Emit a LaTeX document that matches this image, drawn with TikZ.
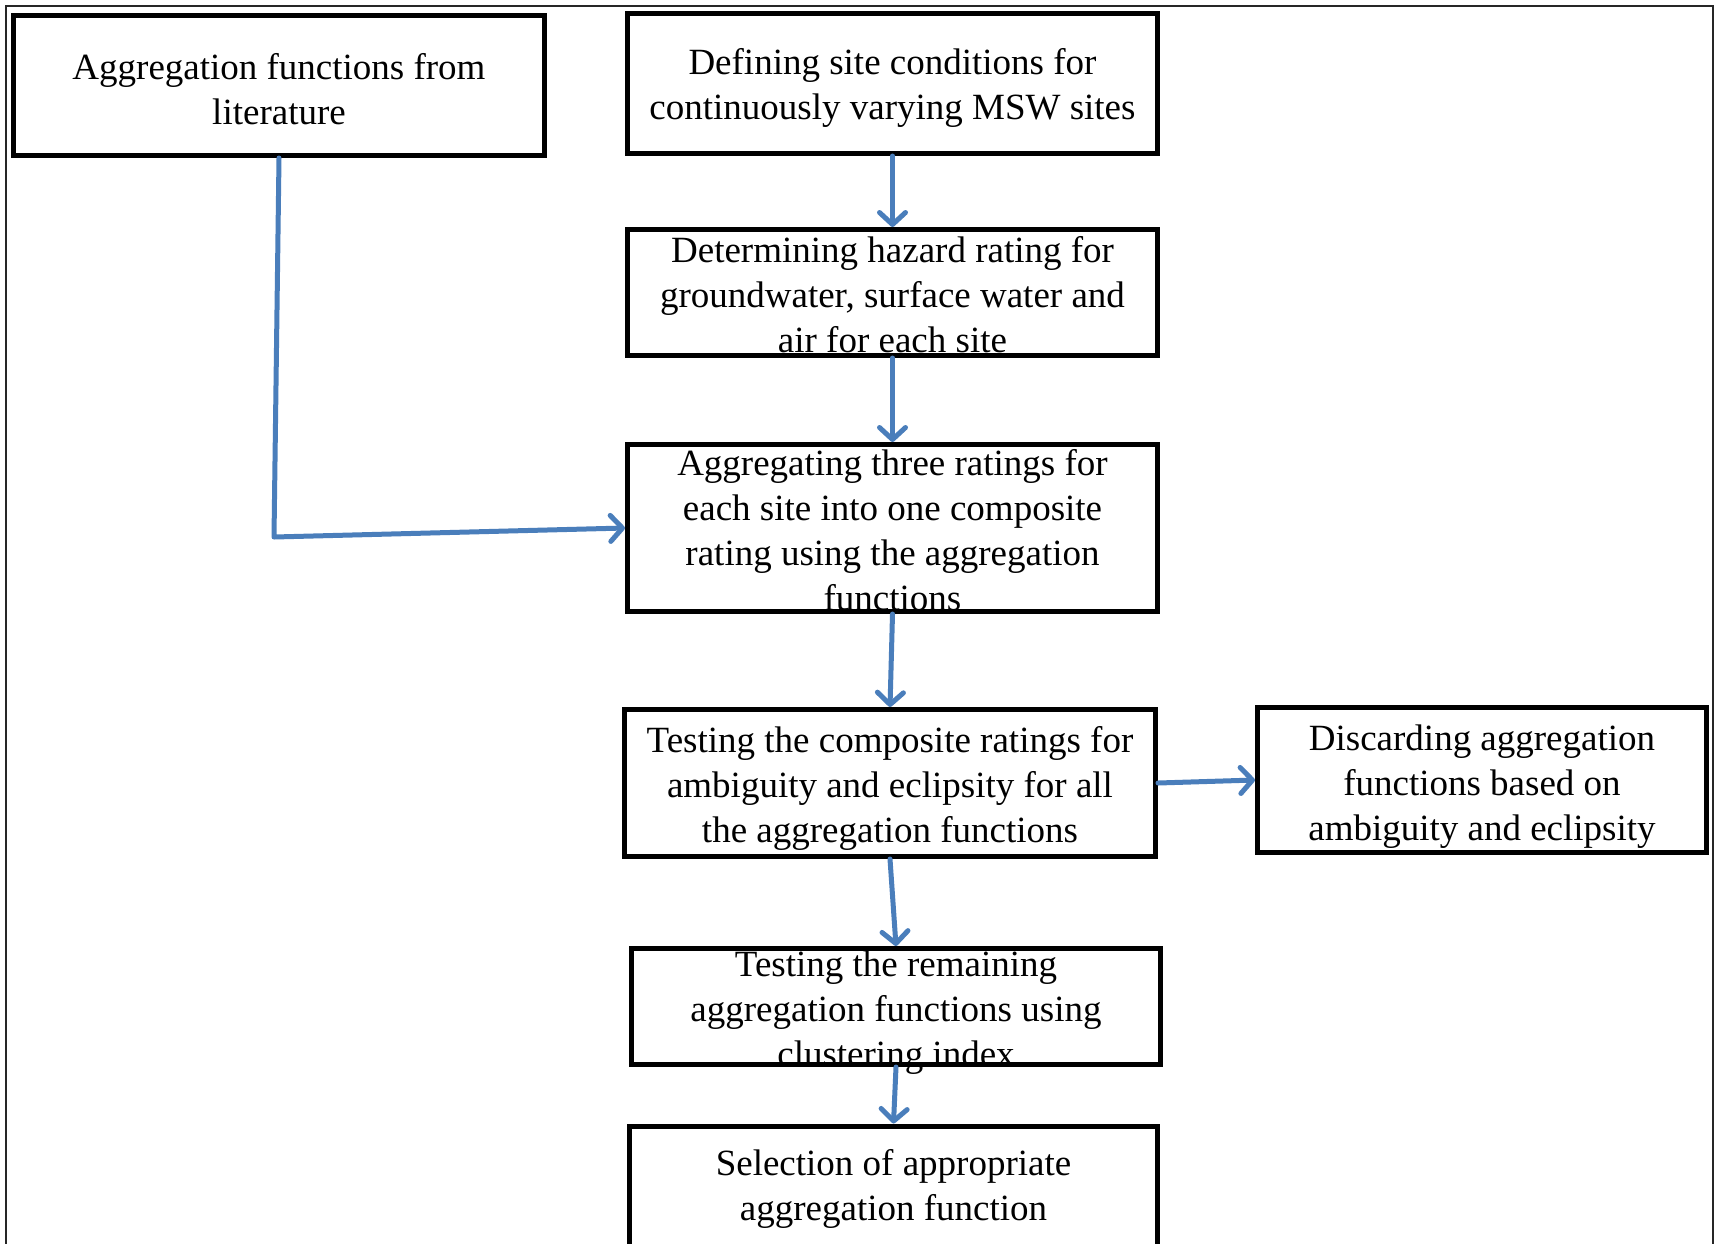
\documentclass[tikz,border=0pt]{standalone}
\usepackage{fontspec}
\setmainfont{Liberation Serif}
\usetikzlibrary{arrows.meta}
\definecolor{arrowblue}{RGB}{74,126,187}
% width, height, downward shift (doubled because of centring), text
\newcommand{\boxtxt}[4]{\parbox[c][#2][c]{#1}{\centering\vspace*{#3}#4}}
\begin{document}
\begin{tikzpicture}[x=1pt,y=-1pt,
  box/.style={draw=black, line width=5pt, inner sep=0pt, fill=white},
  conn/.style={draw=arrowblue, line width=5pt, line cap=round, line join=round,
    -{Straight Barb[length=12pt,width=26pt,round]}},
  font=\fontsize{37}{45}\selectfont]
\useasboundingbox (0,0) rectangle (1721,1243);
\fill[white] (0,0) rectangle (1721,1243);
% outer frame
\draw[line width=2pt, black!85] (5.5,1260) -- (5.5,5.5) -- (1713,5.5) -- (1713,1260);
% boxes
\node[box] (A) at (279,85.5) {\boxtxt{531pt}{140pt}{7pt}{Aggregation functions from\\ literature}};
\node[box] (B) at (892.5,83.5) {\boxtxt{530pt}{140pt}{9pt}{Defining site conditions for\\ continuously varying MSW sites}};
\node[box] (C) at (892.5,292.5) {\boxtxt{530pt}{126pt}{4pt}{Determining hazard rating for\\ groundwater, surface water and\\ air for each site}};
\node[box] (D) at (892.5,528) {\boxtxt{530pt}{167pt}{4pt}{Aggregating three ratings for\\ each site into one composite\\ rating using the aggregation\\ functions}};
\node[box] (E) at (890,783) {\boxtxt{531pt}{147pt}{11pt}{Testing the composite ratings for\\ ambiguity and eclipsity for all\\ the aggregation functions}};
\node[box] (F) at (1482,780) {\boxtxt{449pt}{145pt}{13pt}{Discarding aggregation\\ functions based on\\ ambiguity and eclipsity}};
\node[box] (G) at (896,1006.5) {\boxtxt{529pt}{116pt}{13pt}{Testing the remaining\\ aggregation functions using\\ clustering index}};
\node[box] (H) at (893.5,1191) {\boxtxt{528pt}{130pt}{-4pt}{Selection of appropriate\\ aggregation function}};
% connectors
\coordinate (bend) at (274,537);
\draw[conn] (A.south) -- (bend) -- (D.west);
\draw[conn] (B.south) -- (C.north);
\draw[conn] (C.south) -- (D.north);
\draw[conn] (D.south) -- (E.north);
\draw[conn] (E.east) -- (F.west);
\draw[conn] (E.south) -- (G.north);
\draw[conn] (G.south) -- (H.north);
\end{tikzpicture}
\end{document}
